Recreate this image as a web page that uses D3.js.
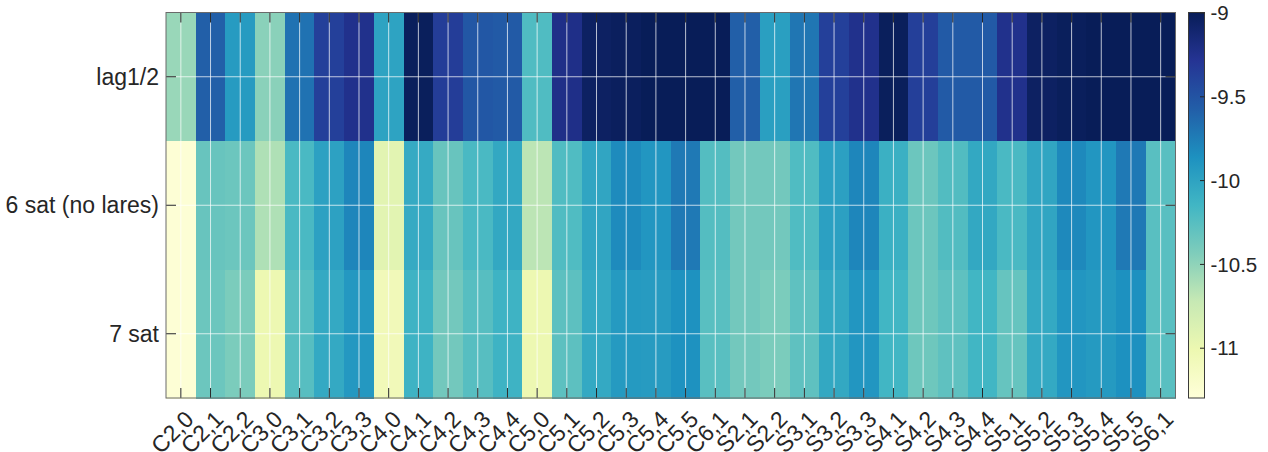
<!DOCTYPE html>
<html>
<head>
<meta charset="utf-8">
<script src="https://cdn.jsdelivr.net/npm/d3@7"></script>
<style>
  body { margin: 0; background: #fff; }
  text { font-family: "Liberation Sans", Arial, Helvetica, sans-serif; fill: #262626; }
</style>
</head>
<body>
<svg id="chart" width="1268" height="452"></svg>
<script>
// ---------- data ----------
const columns = ["C2,0","C2,1","C2,2","C3,0","C3,1","C3,2","C3,3","C4,0","C4,1","C4,2","C4,3","C4,4",
  "C5,0","C5,1","C5,2","C5,3","C5,4","C5,5","C6,1","S2,1","S2,2","S3,1","S3,2","S3,3",
  "S4,1","S4,2","S4,3","S4,4","S5,1","S5,2","S5,3","S5,4","S5,5","S6,1"];
const rows = ["lag1/2", "6 sat (no lares)", "7 sat"];
const lagValues = [-10.54,-9.58,-9.94,-10.48,-9.69,-9.37,-9.25,-10.0,-9.02,-9.35,-9.53,-9.55,
  -10.22,-9.23,-9.05,-9.03,-9.0,-9.0,-9.0,-9.58,-9.97,-9.71,-9.37,-9.25,
  -9.02,-9.36,-9.55,-9.55,-9.25,-9.05,-9.02,-9.0,-9.0,-9.0];
const sat6Values = [-11.27,-10.33,-10.35,-10.63,-10.19,-9.99,-9.8,-10.93,-10.06,-10.33,-10.19,-10.04,
  -10.68,-10.22,-10.02,-9.83,-9.9,-9.73,-10.24,-10.38,-10.38,-10.22,-9.98,-9.8,
  -10.1,-10.35,-10.23,-10.04,-10.19,-10.02,-9.82,-9.9,-9.73,-10.26];
const sat7Values = [-11.27,-10.35,-10.42,-11.02,-10.25,-10.05,-9.92,-11.07,-10.13,-10.38,-10.25,-10.13,
  -11.02,-10.28,-10.05,-9.93,-9.94,-9.87,-10.26,-10.38,-10.42,-10.29,-10.04,-9.9,
  -10.15,-10.36,-10.29,-10.15,-10.32,-10.05,-9.9,-9.93,-9.86,-10.26];
const colorTicks = [-9, -9.5, -10, -10.5, -11];
const colorDomain = [-11.3, -9];
const palette = ["#ffffd9","#edf8b1","#c7e9b4","#7fcdbb","#41b6c4","#1d91c0","#225ea8","#253494","#081d58"];

// ---------- layout ----------
const svg = d3.select("#chart");
const L = 166, R = 1175.5, T = 12.5, B = 398;
const CB = { x: 1188.5, w: 16 };

const x = d3.scaleBand().domain(columns).range([L, R]);
const y = d3.scaleBand().domain(rows).range([T, B]);
const interp = d3.piecewise(d3.interpolateRgb, palette);
const color = d3.scaleSequential(interp).domain(colorDomain).clamp(true);
const cbScale = d3.scaleLinear().domain(colorDomain).range([B, T]);

const series = [lagValues, sat6Values, sat7Values];
const cells = [];
rows.forEach((r, i) => columns.forEach((c, j) => cells.push({ r, c, v: series[i][j] })));

// cells
svg.append("g").selectAll("rect").data(cells).join("rect")
  .attr("x", d => x(d.c)).attr("y", d => y(d.r))
  .attr("width", x.bandwidth() + 0.6).attr("height", y.bandwidth() + 0.6)
  .attr("fill", d => color(d.v))
  .attr("shape-rendering", "crispEdges");

// grid
const grid = svg.append("g").attr("stroke", "#ffffff").attr("stroke-opacity", 0.72).attr("stroke-width", 1);
grid.selectAll("line.v").data(columns).join("line").attr("class", "v")
  .attr("x1", d => x(d) + x.bandwidth() / 2).attr("x2", d => x(d) + x.bandwidth() / 2)
  .attr("y1", T).attr("y2", B);
grid.selectAll("line.h").data(rows).join("line").attr("class", "h")
  .attr("y1", d => y(d) + y.bandwidth() / 2).attr("y2", d => y(d) + y.bandwidth() / 2)
  .attr("x1", L).attr("x2", R);

// axes
const tickColor = "#262626";
const xb = svg.append("g").attr("transform", `translate(0,${B})`)
  .call(d3.axisBottom(x).tickSizeInner(-10).tickSizeOuter(0));
xb.select(".domain").remove();
xb.selectAll("line").attr("stroke", tickColor);
xb.selectAll("text")
  .attr("x", 0).attr("y", 0).attr("dy", "0.35em")
  .attr("text-anchor", "end")
  .attr("transform", "translate(8.5,17) rotate(-45)")
  .style("font-size", "23px").style("font-family", null);

const xt = svg.append("g").attr("transform", `translate(0,${T})`)
  .call(d3.axisTop(x).tickSizeInner(-10).tickSizeOuter(0).tickFormat(""));
xt.select(".domain").remove();
xt.selectAll("line").attr("stroke", tickColor);

const yl = svg.append("g").attr("transform", `translate(${L},0)`)
  .call(d3.axisLeft(y).tickSizeInner(-10).tickSizeOuter(0).tickPadding(7));
yl.select(".domain").remove();
yl.selectAll("line").attr("stroke", tickColor);
yl.selectAll("text").attr("dy", "0.35em").style("font-size", "23px").style("font-family", null);

const yr = svg.append("g").attr("transform", `translate(${R},0)`)
  .call(d3.axisRight(y).tickSizeInner(-10).tickSizeOuter(0).tickFormat(""));
yr.select(".domain").remove();
yr.selectAll("line").attr("stroke", tickColor);

// box
svg.append("rect").attr("x", L).attr("y", T).attr("width", R - L).attr("height", B - T)
  .attr("fill", "none").attr("stroke", "#6a6a6a").attr("stroke-width", 1);

// colorbar
const defs = svg.append("defs");
const grad = defs.append("linearGradient").attr("id", "cbgrad")
  .attr("x1", 0).attr("y1", 1).attr("x2", 0).attr("y2", 0);
grad.selectAll("stop").data(palette).join("stop")
  .attr("offset", (d, i) => i / (palette.length - 1))
  .attr("stop-color", d => d);
svg.append("rect").attr("x", CB.x).attr("y", T).attr("width", CB.w).attr("height", B - T)
  .attr("fill", "url(#cbgrad)").attr("stroke", "#3a3a3a").attr("stroke-width", 1);

const cba = svg.append("g").attr("transform", `translate(${CB.x + CB.w},0)`)
  .call(d3.axisRight(cbScale).tickValues(colorTicks).tickFormat(d => String(d))
    .tickSizeInner(-4.5).tickSizeOuter(0).tickPadding(6));
cba.select(".domain").remove();
cba.selectAll("line").attr("stroke", tickColor);
cba.selectAll("text").attr("dy", "0.35em").style("font-size", "20.5px").style("font-family", null);
</script>
</body>
</html>
